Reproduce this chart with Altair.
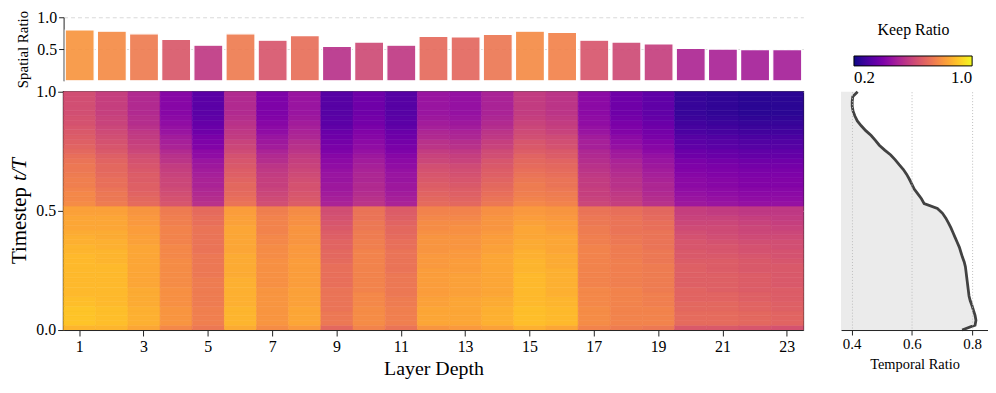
import altair as alt
import pandas as pd

SERIF = "Liberation Serif"

# ---------------- data ----------------
layers = list(range(1, 24))
odd_layers = [1, 3, 5, 7, 9, 11, 13, 15, 17, 19, 21, 23]

spatial_ratio = [0.80, 0.78, 0.74, 0.65, 0.56, 0.74, 0.64, 0.71, 0.54, 0.61, 0.56,
                 0.70, 0.69, 0.73, 0.78, 0.76, 0.64, 0.61, 0.58, 0.51, 0.50, 0.49, 0.49]

# temporal keep ratio, 50 timesteps from t=0 (bottom) to t=1 (top)
temporal_ratio = [0.767, 0.810, 0.813, 0.810, 0.805, 0.800, 0.794, 0.790, 0.788, 0.786,
                  0.784, 0.782, 0.780, 0.778, 0.774, 0.768, 0.763, 0.758, 0.751, 0.744,
                  0.737, 0.730, 0.722, 0.713, 0.702, 0.685, 0.641, 0.632, 0.620, 0.608,
                  0.600, 0.592, 0.583, 0.572, 0.558, 0.545, 0.530, 0.510, 0.492, 0.479,
                  0.465, 0.447, 0.432, 0.419, 0.411, 0.405, 0.402, 0.402, 0.404, 0.420]

# keep ratio (percent) per layer, 50 timestep rows from t=0 (bottom) to t=1 (top)
keep_pct = [
    "87 90 90 90 90 89 89 88 88 88 88 88 88 88 88 88 87 87 86 86 85 84 84 84 83 83 78 77 77 76 75 75 74 73 73 72 71 69 68 67 66 65 64 63 63 62 62 62 62 62",
    "87 89 89 89 89 88 88 88 88 88 88 88 88 88 87 87 87 86 86 85 85 84 84 84 83 83 74 73 73 72 71 71 70 69 69 68 67 65 64 63 62 61 60 59 59 58 58 58 58 58",
    "84 86 86 86 86 85 85 85 85 84 84 84 84 84 84 84 84 84 83 83 82 82 81 81 80 80 70 69 68 67 67 66 66 65 64 63 62 60 59 58 57 56 54 53 53 52 52 52 52 52",
    "77 80 80 80 80 79 79 79 79 78 78 78 78 78 78 77 77 77 76 76 76 76 75 75 74 74 64 63 62 61 60 60 59 58 57 55 54 52 50 49 48 46 45 44 43 42 42 42 42 42",
    "73 75 75 75 75 74 74 74 74 74 74 73 73 73 73 73 72 72 72 72 72 72 71 71 70 70 54 53 52 51 50 50 49 48 47 46 44 43 41 40 39 37 36 35 34 33 33 33 33 33",
    "85 87 87 87 87 86 86 86 86 86 86 85 85 85 85 85 84 84 84 84 84 84 83 83 82 82 72 71 70 69 69 68 67 66 65 64 63 61 60 59 57 56 55 54 53 52 52 52 52 52",
    "78 80 80 80 80 80 80 80 80 79 79 79 79 79 79 78 78 78 77 77 76 76 76 76 75 75 62 61 60 59 58 58 57 56 55 53 52 50 48 47 46 44 43 42 41 40 40 40 40 40",
    "81 84 84 84 84 83 83 83 83 82 82 82 82 82 82 81 81 81 80 80 80 80 79 79 78 78 66 65 64 63 63 62 61 60 59 58 57 55 54 53 51 50 49 48 47 46 46 46 46 46",
    "69 73 73 73 72 72 72 72 72 71 71 71 71 71 70 69 69 68 68 67 66 65 64 63 62 62 50 49 48 47 47 46 46 45 44 43 42 40 39 38 37 36 34 33 33 32 32 32 32 32",
    "76 78 78 78 78 77 77 77 76 76 76 76 76 76 76 76 76 75 75 74 74 73 73 72 72 72 55 54 53 52 52 51 51 50 49 48 47 45 44 43 42 41 39 38 38 37 37 37 37 37",
    "72 75 75 75 75 74 74 73 73 73 73 73 72 72 72 72 72 71 71 70 69 69 68 67 66 66 50 49 48 47 47 46 46 45 44 43 42 40 39 38 37 36 34 33 33 32 32 32 32 32",
    "80 84 84 84 84 83 83 82 82 82 82 82 82 81 81 81 80 80 80 80 79 78 78 77 76 76 70 69 68 67 66 65 64 63 62 60 59 57 55 54 52 51 49 48 47 46 46 46 46 46",
    "81 84 84 84 84 84 84 83 83 83 83 83 82 82 82 81 81 80 80 80 79 79 78 77 76 76 69 68 67 66 65 64 63 62 61 59 58 56 54 53 51 50 48 47 46 45 45 45 45 45",
    "83 86 86 86 86 85 85 84 84 84 84 84 84 84 84 84 83 83 82 82 81 80 80 80 79 79 73 72 71 70 69 68 67 66 65 64 62 61 59 58 56 55 53 52 51 50 50 50 50 50",
    "86 89 89 89 89 88 88 88 88 88 88 88 87 87 87 86 86 85 85 84 84 84 83 82 81 81 77 76 75 74 74 73 72 71 70 69 68 66 65 64 62 61 60 59 58 57 57 57 57 57",
    "84 88 88 88 88 87 87 86 86 86 86 86 86 85 85 85 84 84 84 84 83 82 82 81 80 80 76 75 74 73 72 72 71 70 69 68 66 65 63 62 61 59 58 57 56 55 55 55 55 55",
    "76 78 78 78 78 77 77 77 77 76 76 76 76 76 76 76 76 76 75 75 74 74 73 73 72 72 60 59 58 58 57 57 56 55 54 53 52 51 49 49 48 46 45 44 44 43 43 43 43 43",
    "74 76 76 76 76 76 76 76 76 75 75 75 75 75 75 74 74 74 73 73 72 72 72 72 71 71 58 57 56 55 54 54 53 52 51 50 48 47 45 44 43 41 40 39 38 37 37 37 37 37",
    "73 76 76 76 76 75 75 75 74 74 74 74 74 74 73 73 73 72 72 72 72 71 71 70 69 69 54 53 52 51 51 50 49 48 47 46 45 43 42 41 39 38 37 36 35 34 34 34 34 34",
    "65 70 70 70 69 69 68 68 68 67 67 67 67 67 66 65 65 64 64 63 62 61 60 59 58 58 47 46 45 44 43 43 42 41 40 39 37 36 34 33 32 30 29 28 27 26 26 26 26 26",
    "65 70 70 70 69 69 68 68 67 67 67 67 66 66 66 65 64 64 63 62 61 61 60 59 57 57 46 45 44 43 42 42 41 40 39 38 36 35 33 32 31 29 28 27 26 25 25 25 25 25",
    "64 69 69 69 68 68 67 67 66 66 66 66 65 65 65 64 63 63 62 61 60 60 59 58 56 56 45 44 43 42 41 41 40 39 38 37 35 34 32 31 30 28 27 26 25 24 24 24 24 24",
    "63 68 68 68 67 67 66 66 66 65 65 65 65 65 64 63 63 62 62 61 60 59 58 57 56 56 45 44 43 42 41 41 40 39 38 37 35 34 32 31 30 28 27 26 25 24 24 24 24 24",
]

# ---------------- tables ----------------
N_T = len(temporal_ratio)
sp_df = pd.DataFrame({"layer": layers, "spatial": spatial_ratio})

rows = []
for layer, s in zip(layers, keep_pct):
    vals = [int(v) / 100 for v in s.split()]
    assert len(vals) == N_T, (layer, len(vals))
    for k, v in enumerate(vals):
        rows.append({"layer": layer, "t0": k / N_T, "t1": (k + 1) / N_T,
                     "keep": v, "edge": v})
heat_df = pd.DataFrame(rows)

temp_df = pd.DataFrame({"t": [k / (N_T - 1) for k in range(N_T)], "ratio": temporal_ratio})

color_scale = alt.Scale(scheme="plasma", domain=[0.2, 1.0])
# same colours for the seam-hiding cell outline (distinct domain so legends stay separate)
edge_scale = alt.Scale(scheme="plasma", domain=[0.2, 1.000001])

# ---------------- spatial bars ----------------
bars = alt.Chart(sp_df).mark_bar(stroke="white", strokeWidth=1.2, opacity=0.92).encode(
    x=alt.X("layer:O", axis=None, scale=alt.Scale(paddingInner=0.1, paddingOuter=0.05)),
    y=alt.Y("spatial:Q", scale=alt.Scale(domain=[0, 1], nice=False),
            axis=alt.Axis(values=[0.5, 1.0], format=".1f", title="Spatial Ratio", grid=True,
                          gridDash=[4, 3], gridColor="#d9d9d9", labelFontSize=16,
                          titleFontSize=15, tickSize=5, labelFlush=False, titlePadding=6,
                          labelFont=SERIF, titleFont=SERIF)),
    color=alt.Color("spatial:Q", scale=color_scale, legend=None),
).properties(width=745, height=64)

# ---------------- heatmap ----------------
heat_rect = alt.Chart(heat_df).mark_rect(strokeWidth=0.6).encode(
    x=alt.X("layer:O", scale=alt.Scale(paddingInner=0, paddingOuter=0),
            axis=alt.Axis(values=odd_layers, labelAngle=0, title="Layer Depth",
                          labelFontSize=16, titleFontSize=20, tickSize=6, labelPadding=3,
                          titlePadding=4, labelFont=SERIF, titleFont=SERIF)),
    y=alt.Y("t0:Q", scale=alt.Scale(domain=[0, 1], nice=False, zero=False),
            axis=alt.Axis(values=[0.0, 0.5, 1.0], format=".1f", title="Timestep",
                          labelFontSize=16, titleFontSize=21, tickSize=6, labelFlush=False,
                          titleX=-34, titleY=173, titleAlign="left", titleAngle=270,
                          titleBaseline="bottom", labelFont=SERIF, titleFont=SERIF)),
    y2="t1:Q",
    color=alt.Color("keep:Q", scale=color_scale, title="Keep Ratio",
                    legend=alt.Legend(type="gradient", orient="none", legendX=796,
                                      legendY=-70, direction="horizontal",
                                      gradientLength=119, gradientThickness=10,
                                      labelExpr="(datum.value < 0.21 || datum.value > 0.99) ? format(datum.value, '.1f') : ''",
                                      gradientStrokeColor="black", gradientStrokeWidth=1,
                                      titleAnchor="middle", titleFontSize=16,
                                      titleFont=SERIF, titleFontWeight="normal",
                                      titleColor="#000", labelColor="#000",
                                      labelFont=SERIF, labelFontSize=17,
                                      labelOverlap=False,
                                      titlePadding=18, labelOffset=4, padding=0)),
    stroke=alt.Stroke("edge:Q", scale=edge_scale, legend=None),
)

title_df = pd.DataFrame({"label": ["t/T"]})
title_italic = alt.Chart(title_df).mark_text(
    angle=270, align="left", baseline="bottom", font=SERIF, fontSize=21,
    fontStyle="italic", color="#000",
).encode(text="label:N", x=alt.value(-34), y=alt.value(90))

heat = alt.layer(heat_rect, title_italic).properties(
    width=745, height=240, view=alt.ViewBackground(stroke="#222", strokeWidth=1.6))

# ---------------- temporal profile ----------------
tbase = alt.Chart(temp_df)
xt = alt.X("ratio:Q", scale=alt.Scale(domain=[0.365, 0.853], nice=False, zero=False),
           axis=alt.Axis(values=[0.4, 0.6, 0.8], format=".1f", title="Temporal Ratio",
                         grid=True, gridDash=[1, 2], gridColor="#bdbdbd", labelFontSize=15,
                         titleFontSize=14.5, tickSize=5, labelFlush=False, zindex=1,
                         titlePadding=6, labelFont=SERIF, titleFont=SERIF))
yt = alt.Y("t:Q", scale=alt.Scale(domain=[0, 1], nice=False, zero=False), axis=None)
area = tbase.mark_area(orient="horizontal", color="#ebebeb").encode(
    x=xt, x2=alt.datum(0.365), y=yt)
line = tbase.mark_line(color="#424242", strokeWidth=2.8).encode(
    x="ratio:Q", y="t:Q", order="t:Q")
temporal = alt.layer(area, line).properties(width=148, height=240)

bottom = alt.hconcat(heat, temporal, spacing=38, bounds="flush").resolve_scale(
    x="independent", y="independent", color="independent", stroke="independent")

chart = alt.vconcat(bars, bottom, spacing=11, bounds="flush").resolve_scale(
    x="independent", y="independent", color="independent", stroke="independent"
).properties(
    padding={"left": 0, "top": 0, "right": 0, "bottom": 0}
).configure_view(stroke=None).configure_axis(
    labelFont=SERIF, titleFont=SERIF, titleFontWeight="normal",
    domainColor="#222", tickColor="#222", labelColor="#000", titleColor="#000",
)

chart.save("out.html", embed_options={"renderer": "svg", "actions": False})
